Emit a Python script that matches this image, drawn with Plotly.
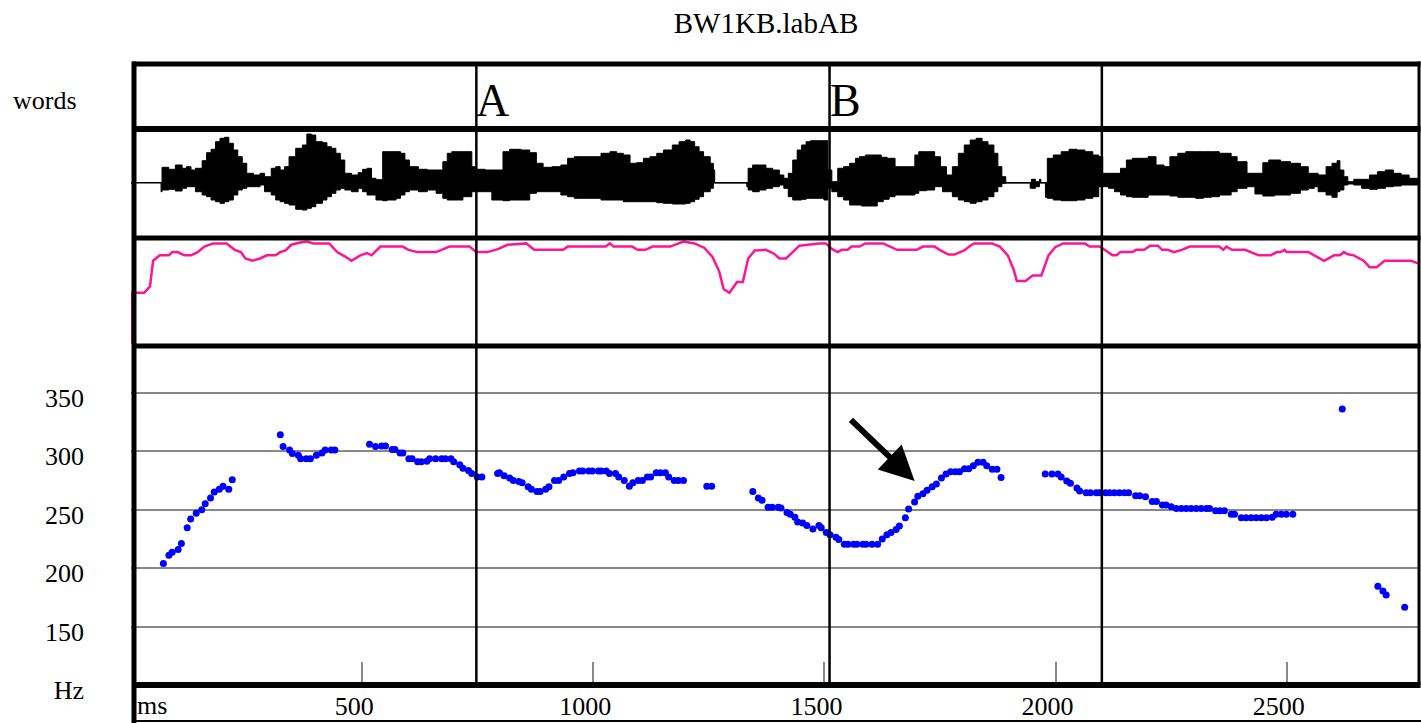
import plotly.graph_objects as go

# ---------------- data ----------------
title_text = "BW1KB.labAB"
tier_label = "words"
word_labels = ["A", "B"]
word_starts_ms = [747, 1511]
boundaries_ms = [747, 1511, 2100]
time_unit = "ms"
x_tick_vals = [500, 1000, 1500, 2000, 2500]
hz_tick_vals = [100, 150, 200, 250, 300, 350]
hz_tick_text = ["Hz", "150", "200", "250", "300", "350"]

# F0 track (Hz)
f0_ms = [70, 82, 89, 102, 109, 121.5, 129, 141, 153, 160.5, 172, 180, 191, 199, 211.5, 219,
         323, 329, 343, 349, 362, 367, 379, 388, 401, 413, 420, 433, 441,
         516, 529, 542, 550.5, 565, 571, 582, 588, 601, 608, 620, 628, 640, 646, 659, 672, 680,
         692, 698, 711, 718, 730, 737, 749, 759, 793, 797, 807, 819, 827, 839, 846, 859, 866,
         878, 885, 897, 904, 916, 925, 936, 948.5, 956, 970, 977, 990, 998, 1011, 1017, 1028,
         1035, 1048, 1055, 1067, 1078, 1085.5, 1097, 1106, 1117, 1124, 1136, 1145, 1156, 1163,
         1175, 1184, 1195,
         1245.5, 1256,
         1345, 1357, 1365, 1378, 1387, 1400, 1406, 1419, 1426, 1436, 1442, 1453, 1462, 1475,
         1488, 1493, 1504, 1512, 1525, 1531, 1543, 1551, 1563, 1570, 1583, 1590, 1603, 1615,
         1625, 1635, 1644, 1655, 1662, 1675, 1682, 1695, 1702, 1713, 1722, 1733, 1742, 1753,
         1763, 1773, 1783.5, 1792, 1803, 1812, 1822, 1832, 1843, 1851, 1863, 1873, 1882,
         1977.5, 1992, 2005, 2012, 2024, 2032, 2046, 2052, 2066, 2075, 2088, 2095, 2108, 2117,
         2127, 2138, 2149, 2158, 2173, 2182, 2194.5, 2209, 2218, 2231, 2239, 2250, 2261, 2272,
         2282.5, 2293, 2304, 2315, 2326, 2333, 2346, 2355, 2365, 2380, 2387, 2401.5, 2412, 2423,
         2434, 2445, 2456, 2468.5, 2477, 2488, 2499, 2513,
         2620, 2697, 2708, 2715, 2755]
f0_hz = [204, 211, 213.5, 216, 221, 234.5, 242, 247, 250, 255, 260, 265, 267.5, 270, 267.5, 275.5,
         314, 304, 301, 298, 296.5, 293.5, 293.5, 293.5, 296.5, 298.5, 301, 301, 301,
         306, 304, 304.5, 304.5, 301.5, 301.5, 298.5, 298.5, 293.5, 293.5, 291, 291, 291.5, 293.5,
         293.5, 293.5, 293.5, 293.5, 291, 288.5, 285.5, 283.5, 281, 278, 278, 281, 281.5, 279, 277,
         275, 274, 273, 269.5, 267.5, 265.5, 265.5, 267.5, 269.5, 275, 275, 278, 281, 281.5, 283,
         283, 283, 283, 283, 283, 283, 281, 281, 278, 275, 270, 273, 275, 275, 278, 278, 281.5,
         281.5, 281.5, 278, 275, 275, 275,
         270, 270,
         265.5, 260, 258, 252, 252, 252, 251.5, 247.5, 246, 243.5, 239.5, 238.5, 236.5, 233.5,
         236.5, 234.5, 230.5, 228.5, 226.5, 224.5, 220.5, 220.5, 220.5, 220.5, 220.5, 220.5,
         220.5, 220.5, 225, 228.5, 230.5, 233, 236, 243, 250.5, 256.5, 261.5, 263.5, 266.5,
         269.5, 272, 277, 280.5, 282.5, 282.5, 282.5, 285, 285, 287.5, 290.5, 290.5, 287.5,
         284.5, 284.5, 277.5,
         280.5, 280.5, 280.5, 278, 274.5, 272.5, 268.5, 266, 264.5, 264.5, 264.5, 264.5, 264.5,
         264.5, 264.5, 264.5, 264.5, 264.5, 262, 262, 261, 257, 257, 254, 254, 252.5, 251, 251,
         251, 251, 251, 251, 251, 251, 249, 249, 249, 246, 246, 243, 243, 243, 243, 243, 243,
         243.5, 246, 246, 246, 246,
         336, 184.5, 180.5, 177, 166.5]

# intensity contour (relative units)
intensity_ms = [0, 0, 28.6, 41.1, 47.8, 62.3, 81.6, 89.3, 100.9, 115.3, 129.8, 144.2, 158.7, 178,
                206.9, 224.3, 237.8, 247.4, 262.8, 279.2, 293.7, 313, 322.6, 334.2, 346.7, 366,
                380.4, 394.9, 428.6, 446, 462.4, 476.8, 496.1, 510.6, 520.2, 539.5, 587.7, 600.2,
                619.5, 660, 688.9, 732.3, 746.8, 770.9, 795, 814.3, 854.8, 872.1, 934.8, 944.4,
                1026.4, 1036, 1043.7, 1084.2, 1095.8, 1113.2, 1127.6, 1166.2, 1195.1, 1219.2,
                1240.4, 1257.8, 1272.3, 1281.9, 1294.5, 1310.9, 1323.4, 1335, 1349.4, 1373.5,
                1390.9, 1402.5, 1416.9, 1431.4, 1445.8, 1487.3, 1503, 1515.9, 1528.7, 1537.3,
                1550.1, 1558.6, 1575.7, 1588.6, 1627.1, 1657, 1699.8, 1712.6, 1738.3, 1751.1,
                1768.2, 1781, 1802.4, 1815.2, 1823.8, 1862.3, 1879.4, 1896.5, 1909.3, 1916.2,
                1935, 1950.4, 1969.2, 1984.6, 1999.1, 2016.2, 2063.3, 2073.5, 2095.8, 2106,
                2123.2, 2131.7, 2140.3, 2165.9, 2174.5, 2191.6, 2204.4, 2221.5, 2230.1, 2242.9,
                2255.7, 2272.8, 2289.9, 2354.1, 2362.6, 2369.5, 2381.5, 2409.7, 2439.6, 2465.3,
                2478.1, 2486.7, 2495.2, 2499.5, 2546.6, 2559.4, 2580.8, 2602.2, 2615, 2623.5,
                2632.1, 2644.9, 2666.3, 2679.1, 2694.5, 2711.6, 2768.9, 2783.5]
intensity_val = [2.5, 51.2, 51.2, 57.4, 82.1, 87.3, 87.3, 90.4, 90.4, 87.3, 87.3, 90.4, 95.7, 98.8,
                 98.8, 92.6, 90.4, 84.3, 82.1, 84.3, 87.3, 87.3, 90.4, 92, 97.5, 99.7,
                 100.5, 98.8, 98.8, 90.4, 86.4, 82.1, 87.3, 89.5, 87.3, 95.7, 95.7, 92.6,
                 90.4, 90.4, 95.7, 95.7, 90.4, 90.4, 93.5, 97.5, 98.8, 92.6, 92.6, 95.7,
                 95.7, 98.8, 95.7, 95.7, 92.6, 92.6, 95.7, 95.7, 100.5, 98.8,
                 94.4, 85.8, 71.9, 54.9, 51.2, 61.7, 61.7, 84.3, 92, 92.6,
                 88.9, 84.3, 84.3, 90.4, 96.6, 98.8, 98.8, 93.5, 90.4, 92.6,
                 92.6, 95.7, 95.7, 98.8, 98.8, 92.6, 92.6, 95.7, 95.7, 92,
                 88, 88, 92, 96.6, 98.8, 98.8, 95.7, 87.3, 73.5, 62.6,
                 62.6, 67.9, 67.9, 87.3, 95.1, 98.8, 98.8, 95.7, 95.7, 92.6,
                 87.3, 87.3, 90.4, 90.4, 92.6, 92.6, 96.6, 96.6, 92.6, 92.6,
                 90.4, 92.6, 95.7, 95.7, 92.6, 95.7, 92.6, 92.6, 87.3, 87.3,
                 90.4, 90.4, 92.6, 90.4, 90.4, 87.3, 82.1, 87.3, 87.3, 90.4,
                 88.3, 87.3, 82.1, 75.9, 75.9, 82.1, 82.1, 79.6]

# waveform amplitude envelope (upper / lower)
wave_upper_ms = [65, 67.1, 81.6, 96, 110.5, 120.1, 129.8, 139.4, 153.9, 163.5, 173.2, 182.8, 192.5,
                 202.1, 211.7, 221.4, 231, 240.7, 250.3, 264.8, 279.2, 288.9, 303.3, 313, 322.6,
                 332.2, 341.9, 356.3, 370.8, 380.4, 390.1, 399.7, 414.2, 423.8, 433.5, 443.1,
                 452.8, 462.4, 476.9, 491.3, 501, 510.6, 520.2, 529.9, 544.3, 554, 573.3, 582.9,
                 592.5, 602.2, 621.5, 640.8, 660, 674.5, 684.1, 693.8, 708.2, 717.9, 737.2, 746.8,
                 766.1, 780.5, 804.6, 819.1, 843.2, 862.5, 876.9, 891.4, 910.7, 929.9, 944.4,
                 958.9, 978.1, 997.4, 1016.7, 1036, 1050.5, 1064.9, 1079.4, 1093.8, 1108.3,
                 1122.7, 1137.2, 1151.7, 1170.9, 1185.4, 1199.9, 1209.5, 1219.2, 1228.8, 1238.5,
                 1252.9, 1259.7, 1262.6, 1332, 1334.9, 1344.6, 1359, 1373.5, 1388, 1402.4, 1412.1,
                 1421.7, 1431.3, 1441, 1450.6, 1460.3, 1469.9, 1479.6, 1498.8, 1507.3, 1515.9,
                 1528.7, 1541.5, 1554.4, 1567.2, 1575.7, 1588.6, 1605.7, 1622.8, 1635.6, 1652.7,
                 1674.1, 1686.9, 1695.5, 1704, 1721.2, 1738.3, 1751.1, 1763.9, 1776.7, 1789.6,
                 1802.4, 1815.2, 1828.1, 1840.9, 1853.7, 1866.5, 1875.1, 1883.7, 1892.2, 1945,
                 1947.8, 1956.4, 1964.9, 1968, 1978, 1982, 1994.9, 2012, 2029.1, 2046.2, 2063.3,
                 2080.4, 2093.2, 2101.8, 2114.6, 2127.4, 2140.3, 2153.1, 2165.9, 2183, 2200.1,
                 2217.2, 2234.4, 2247.2, 2264.3, 2281.4, 2302.8, 2319.9, 2337, 2354.1, 2379.7,
                 2392.6, 2414, 2431.1, 2448.2, 2461, 2473.8, 2486.7, 2508.1, 2529.4, 2546.5,
                 2559.4, 2567.9, 2585, 2597.8, 2608.9, 2614.9, 2623.5, 2632, 2644.9, 2662, 2679.1,
                 2696.2, 2713.3, 2730.4, 2747.5, 2764.6, 2783.4]
wave_upper = [0, 15.4, 13.4, 17.7, 14.4, 16, 12.7, 14.4, 22, 30, 33.4, 41, 44.4,
              45.4, 39.4, 32.7, 26, 19.4, 9.4, 7.7, 9.4, 6, 14.4, 16, 12.7,
              16, 26, 34.4, 37.7, 48.7, 47.7, 41, 40, 36, 34.4, 29.4,
              22.7, 9.4, 7.7, 10, 13.4, 14.4, 4.4, 3, 31, 31, 31, 29.4,
              22.7, 16, 13.4, 12.7, 12.7, 21, 29.4, 31, 31, 31, 16, 13.4,
              12.7, 12.7, 31, 33.4, 32.7, 30, 19.4, 15.4, 16, 17.7, 24.4,
              26, 26, 26, 29.4, 31, 29.4, 27.7, 19.4, 20, 24.4,
              26, 29.4, 32.7, 37.7, 41, 42.7, 41, 36, 31, 26,
              19.4, 12.7, 0, 0, 14.4, 17.7, 17.7, 14.4, 12.7, 7.7, 4.4,
              9.4, 22.7, 32.7, 37.7, 41, 42, 42, 42, 12.7, 1,
              14.4, 16, 19.4, 24.4, 26, 27.7, 27.7, 25.4, 24.4, 16,
              16, 16, 27.7, 31, 31, 26, 16, 7.7, 16, 29.4,
              37.7, 42.7, 44.4, 41, 37.7, 29.4, 16, 6, 0, 0,
              3.4, 1, 3.4, 0, 0, 24.4, 27.7, 31, 33.4, 32.7, 31,
              27.7, 26, 9.4, 9.4, 9.4, 14.4, 22.7, 24.4, 24.4, 26,
              17.7, 16, 26, 29.4, 31, 31, 31, 31, 29.4, 26,
              21, 9.4, 9.4, 20, 22.7, 22.7, 21, 19.4, 16, 9.4,
              9.4, 7.7, 16, 19.4, 22, 12.7, 6, 1, 3.4, 3.4, 7.7,
              11, 12.7, 9.4, 7.7, 4.4, 3.4]
wave_lower_ms = [65, 67.1, 81.6, 96, 110.5, 120.1, 129.8, 139.4, 153.9, 163.5, 173.2, 182.8, 192.5,
                 202.1, 211.7, 221.4, 231, 240.7, 250.3, 264.8, 279.2, 288.9, 303.3, 313, 322.6,
                 332.2, 341.9, 356.3, 370.8, 380.4, 390.1, 399.7, 414.2, 423.8, 433.5, 443.1,
                 452.8, 462.4, 476.9, 491.3, 501, 510.6, 520.2, 529.9, 544.3, 554, 573.3, 582.9,
                 592.5, 602.2, 621.5, 640.8, 660, 674.5, 684.1, 693.8, 708.2, 717.9, 737.2, 746.8,
                 766.1, 780.5, 804.6, 819.1, 843.2, 862.5, 876.9, 891.4, 910.7, 929.9, 944.4,
                 958.9, 978.1, 997.4, 1016.7, 1036, 1050.5, 1064.9, 1079.4, 1093.8, 1108.3,
                 1122.7, 1137.2, 1151.7, 1170.9, 1185.4, 1199.9, 1209.5, 1219.2, 1228.8, 1238.5,
                 1252.9, 1259.7, 1262.6, 1332, 1334.9, 1344.6, 1359, 1373.5, 1388, 1402.4, 1412.1,
                 1421.7, 1431.3, 1441, 1450.6, 1460.3, 1469.9, 1479.6, 1498.8, 1507.3, 1515.9,
                 1528.7, 1541.5, 1554.4, 1567.2, 1580, 1597.1, 1614.2, 1627.1, 1639.9, 1652.7,
                 1674.1, 1686.9, 1695.5, 1704, 1721.2, 1738.3, 1755.4, 1776.7, 1789.6, 1802.4,
                 1815.2, 1828.1, 1840.9, 1853.7, 1866.5, 1875.1, 1883.7, 1892.2, 1945, 1947.8,
                 1956.4, 1964.9, 1968, 1978, 1982, 1994.9, 2012, 2029.1, 2046.2, 2063.3, 2080.4,
                 2093.2, 2101.8, 2114.6, 2127.4, 2140.3, 2153.1, 2165.9, 2183, 2200.1, 2217.2,
                 2234.4, 2247.2, 2264.3, 2281.4, 2302.8, 2319.9, 2337, 2354.1, 2379.7, 2392.6,
                 2414, 2431.1, 2448.2, 2461, 2473.8, 2486.7, 2508.1, 2529.4, 2546.5, 2559.4,
                 2567.9, 2585, 2597.8, 2608.9, 2614.9, 2623.5, 2632, 2644.9, 2662, 2679.1, 2696.2,
                 2713.3, 2730.4, 2747.5, 2764.6, 2783.4]
wave_lower = [0, -9, -7.3, -6.6, -8.3, -5.6, -4, -4, -9, -12.3, -14, -17.3, -19,
              -20.6, -19, -17.3, -12.3, -7.3, -5.6, -4, -4, -2.3, -9, -12.3, -17.3,
              -19, -20.6, -22.3, -26.6, -27.3, -25.6, -24, -20.6, -17.3, -14, -10.6,
              -7.3, -5.6, -7.3, -9, -5.6, -9, -12.3, -12.3, -17.3, -18, -17.3, -15.6,
              -12.3, -9, -7.3, -9, -7.3, -10.6, -15.6, -17.3, -17.3, -17.3, -14, -9,
              -9, -9, -17.3, -18, -17.3, -17.3, -10.6, -9, -9, -9, -12.3,
              -14, -15.6, -15.6, -15.6, -17.3, -17.3, -17.3, -19, -19, -19,
              -19, -19, -20, -20.6, -21.3, -21.3, -20.6, -19, -16.6, -14,
              -9, -5.6, 0, 0, -4, -7.3, -9, -7.3, -5.6, -4, -2.3,
              -5.6, -14, -17.3, -17.3, -16.6, -15.6, -15.6, -15.6, -17.3, -5.6,
              -9, -14, -17.3, -22.3, -22.3, -23.3, -23.3, -19, -16.6, -14,
              -12.3, -12.3, -12.3, -10.6, -8, -7.3, -4, -9, -14, -17.3,
              -19, -20.6, -19, -17.3, -14, -9, -4, -0.6, 0, -5.6,
              -5.6, -4, 0, 0, -14.6, -15.6, -17.3, -18, -18, -17.3, -15.6,
              -14, -4, -4, -5.6, -9, -12.3, -14, -14.6, -14.6, -12.3,
              -12.3, -12.3, -13.3, -14.6, -14.6, -15.6, -14.6, -14, -12.3, -9,
              -5.6, -4, -11.3, -13.3, -13.3, -12.3, -12.3, -10.6, -7.3, -5.6,
              -4, -9, -12.3, -14.6, -9, -7.3, -2.3, -1.3, -2.3, -5.6, -6.6,
              -5.6, -4, -3.3, -2.3, -2.3]

# annotation arrow (tail -> head), in ms / Hz
arrow_tail = (1554, 328)
arrow_head = (1695, 274.6)

# ---------------- layout geometry ----------------
W, H = 1421, 723
ML, MR, MT, MB = 131, 2, 64, 38
X_RANGE = [0, 2786]
PW, PH = W - ML - MR, H - MT - MB
FONT = "Liberation Serif"


def px_x(px):
    return (px - ML) / PW


def px_y(py):
    return (H - MB - py) / PH


b_top, b_w, b_i, b_f, b_bot = 64, 129, 238, 346, 685
dom_words = [px_y(b_w), 1]
dom_wave = [px_y(b_i), px_y(b_w)]
dom_int = [px_y(b_f), px_y(b_i)]
dom_f0 = [0, px_y(b_f)]

fig = go.Figure()

# waveform baseline and envelope
fig.add_trace(go.Scatter(x=X_RANGE, y=[0, 0], mode="lines",
                         line=dict(color="black", width=1.5),
                         xaxis="x", yaxis="y2", hoverinfo="skip", showlegend=False))
fig.add_trace(go.Scatter(x=wave_upper_ms + wave_lower_ms[::-1],
                         y=wave_upper + wave_lower[::-1],
                         mode="lines", fill="toself", fillcolor="black",
                         line=dict(color="black", width=1, shape="hv"),
                         xaxis="x", yaxis="y2", hoverinfo="skip", showlegend=False))
# intensity
fig.add_trace(go.Scatter(x=intensity_ms, y=intensity_val, mode="lines",
                         line=dict(color="#ff1493", width=2.5),
                         xaxis="x", yaxis="y3", showlegend=False))
# F0
fig.add_trace(go.Scatter(x=f0_ms, y=f0_hz, mode="markers",
                         marker=dict(color="#0000ff", size=7),
                         xaxis="x", yaxis="y4", showlegend=False))

shapes = []
# segment boundaries
for b in boundaries_ms:
    shapes.append(dict(type="line", xref="x", yref="paper", x0=b, x1=b, y0=0, y1=1,
                       line=dict(color="black", width=2.5)))
# frame
xl, xr = px_x(134), 1.0
for py, w in [(b_top, 5), (b_w, 6), (b_i, 5), (b_f, 5), (b_bot, 6)]:
    shapes.append(dict(type="line", xref="paper", yref="paper", x0=xl - 0.0015, x1=xr + 0.0012,
                       y0=px_y(py), y1=px_y(py), line=dict(color="black", width=w)))
shapes.append(dict(type="line", xref="paper", yref="paper", x0=xl, x1=xl,
                   y0=px_y(H), y1=px_y(b_top - 2.5), line=dict(color="black", width=5)))
shapes.append(dict(type="line", xref="paper", yref="paper", x0=1.0, x1=1.0,
                   y0=px_y(b_bot), y1=px_y(b_top - 2.5), line=dict(color="black", width=3)))
shapes.append(dict(type="line", xref="paper", yref="paper", x0=xl, x1=px_x(W),
                   y0=px_y(721), y1=px_y(721), line=dict(color="black", width=2)))

annotations = []
annotations.append(dict(text=tier_label, xref="paper", yref="paper", x=px_x(79), y=px_y(100),
                        xanchor="right", yanchor="middle", showarrow=False,
                        font=dict(family=FONT, size=26, color="black")))
for lab, s in zip(word_labels, word_starts_ms):
    annotations.append(dict(text=lab, xref="x", yref="paper", x=s, y=px_y(100),
                            xanchor="left", yanchor="middle", showarrow=False, xshift=-2,
                            font=dict(family=FONT, size=46, color="black")))
annotations.append(dict(text=time_unit, xref="paper", yref="paper", x=px_x(136), y=px_y(705),
                        xanchor="left", yanchor="middle", showarrow=False, borderpad=0,
                        font=dict(family=FONT, size=26, color="black")))
annotations.append(dict(text="", xref="x", yref="y4", x=arrow_head[0], y=arrow_head[1],
                        axref="x", ayref="y4", ax=arrow_tail[0], ay=arrow_tail[1],
                        showarrow=True, arrowhead=2, arrowsize=1.15, arrowwidth=6,
                        arrowcolor="black", standoff=0))

fig.update_layout(
    width=W, height=H,
    margin=dict(l=ML, r=MR, t=MT, b=MB, autoexpand=False),
    paper_bgcolor="white", plot_bgcolor="white",
    showlegend=False,
    title=dict(text=title_text, x=766 / W, xanchor="center", y=1 - 23 / H, yanchor="middle",
               font=dict(family=FONT, size=29, color="black")),
    xaxis=dict(range=X_RANGE, domain=[0, 1], anchor="y4", tickvals=x_tick_vals,
               ticks="inside", ticklen=23, tickwidth=2, tickcolor="#888888",
               showgrid=False, zeroline=False, showline=False, automargin=False,
               ticklabelshift=-8, ticklabelstandoff=3,
               tickfont=dict(family=FONT, size=26, color="black")),
    yaxis=dict(domain=dom_words, range=[0, 1], visible=False, anchor="x"),
    yaxis2=dict(domain=dom_wave, range=[-55.3, 53.7], visible=False, anchor="x"),
    yaxis3=dict(domain=dom_int, range=[0, 104], visible=False, anchor="x"),
    yaxis4=dict(domain=dom_f0, range=[100, 390], anchor="x", tickvals=hz_tick_vals,
                ticktext=hz_tick_text, ticks="", showgrid=True, gridcolor="#888888",
                gridwidth=2, zeroline=False, showline=False, automargin=False,
                ticklabelshift=5, ticklabelstandoff=46,
                tickfont=dict(family=FONT, size=26, color="black")),
    shapes=shapes,
    annotations=annotations,
)

fig.write_html("out.html", config={"displayModeBar": False},
               post_script="document.body.style.margin='0';document.body.style.overflow='hidden';")
